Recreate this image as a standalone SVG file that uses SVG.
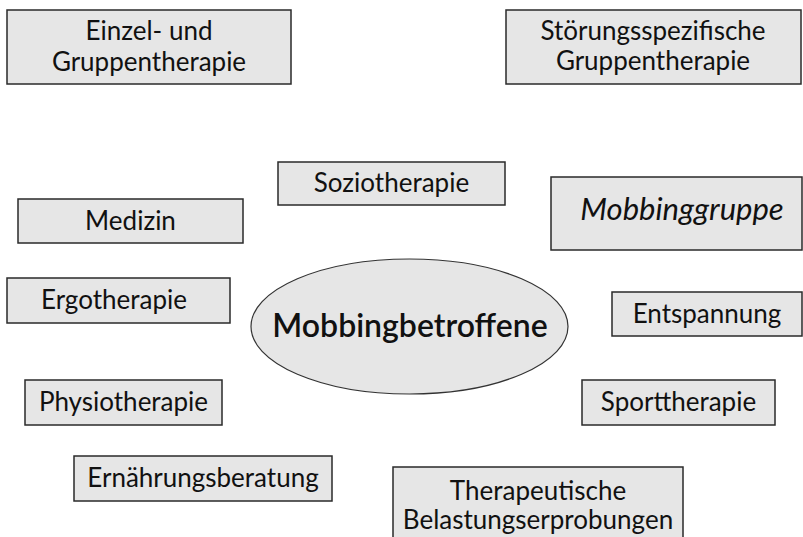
<svg xmlns="http://www.w3.org/2000/svg" width="803" height="537" viewBox="0 0 803 537">
<style>
.box{fill:#e6e6e6;stroke:#2a2a2a;stroke-width:1.5}
.t{font-family:Lato,"Noto Sans",sans-serif;font-size:26px;fill:#111;text-anchor:middle}
.big{font-size:32px;font-weight:600}
.it{font-size:31px;font-style:italic}
</style>
<rect width="803" height="537" fill="#fff"/>
<g id="connectors"/>
<g id="n-einzel"><rect class="box" x="7" y="10" width="284" height="74"/><text class="t" x="149" y="40">Einzel- und</text><text class="t" x="149" y="71">Gruppentherapie</text></g>
<g id="n-stoerung"><rect class="box" x="506" y="10" width="295" height="74"/><text class="t" x="653" y="40">Störungsspezifische</text><text class="t" x="653" y="70">Gruppentherapie</text></g>
<g id="n-sozio"><rect class="box" x="278" y="162" width="227" height="43"/><text class="t" x="391.5" y="192">Soziotherapie</text></g>
<g id="n-medizin"><rect class="box" x="18" y="199" width="225" height="44"/><text class="t" x="130.5" y="230">Medizin</text></g>
<g id="n-mobbinggruppe"><rect class="box" x="551" y="177" width="251" height="73"/><text class="t it" x="682" y="220">Mobbinggruppe</text></g>
<g id="n-ergo"><rect class="box" x="7" y="278" width="223" height="45"/><text class="t" x="114" y="309">Ergotherapie</text></g>
<g id="n-center"><ellipse cx="409.5" cy="326.5" rx="158.5" ry="67.5" fill="#e6e6e6" stroke="#333" stroke-width="1.2"/><text class="t big" x="410" y="337">Mobbingbetroffene</text></g>
<g id="n-entspannung"><rect class="box" x="612" y="292" width="190" height="44"/><text class="t" x="707" y="323">Entspannung</text></g>
<g id="n-physio"><rect class="box" x="25" y="380" width="197" height="45"/><text class="t" x="123.5" y="411">Physiotherapie</text></g>
<g id="n-sport"><rect class="box" x="582" y="380" width="193" height="45"/><text class="t" x="678.5" y="411">Sporttherapie</text></g>
<g id="n-ernaehrung"><rect class="box" x="74" y="456" width="258" height="45"/><text class="t" x="203" y="487">Ernährungsberatung</text></g>
<g id="n-therapeutische"><rect class="box" x="393" y="467" width="290" height="80"/><text class="t" x="538" y="500">Therapeutische</text><text class="t" x="538" y="529">Belastungserprobungen</text></g>
</svg>
